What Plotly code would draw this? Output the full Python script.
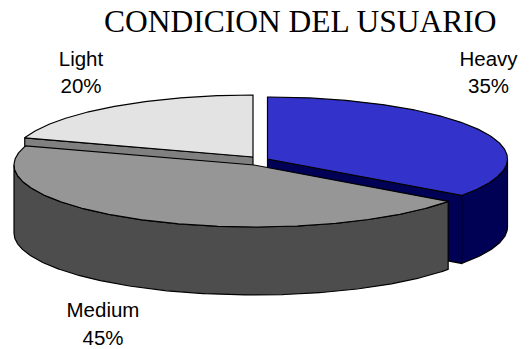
import numpy as np
import plotly.graph_objects as go

title = "CONDICION DEL USUARIO"
categories = ["Heavy", "Medium", "Light"]
values = [35, 45, 20]
top_colors = ["#3333CC", "#969696", "#E3E3E3"]
side_colors = ["#000055", "#4D4D4D", "#808080"]
centers = [(267.5, 159), (254, 165), (253, 157)]
label_x = [488.5, 103, 81]
label_name_y = [60.5, 311.5, 60.5]
label_pct_y = [88, 339.5, 88]
RX, RY, DEPTH = 240, 62, 68

def pt(c, deg, drop=0):
    a = np.radians(deg)
    return c[0] + RX * np.sin(a), c[1] - RY * np.cos(a) + drop

def arc(c, a0, a1, drop=0):
    d = np.linspace(a0, a1, max(int(abs(a1 - a0)) * 2, 2))
    return pt(c, d, drop)

fig = go.Figure()

def poly(x, y, color):
    fig.add_trace(go.Scatter(
        x=list(x) + [x[0]], y=list(y) + [y[0]], mode="lines", fill="toself",
        fillcolor=color, line=dict(color="black", width=1.2),
        hoverinfo="skip", showlegend=False))

# angular extents, clockwise from 12 o'clock
edges = np.cumsum([0] + values) * 3.6
spans = {n: (edges[i], edges[i + 1]) for i, n in enumerate(categories)}

def radial_wall(i, deg):
    c = centers[i]
    ex, ey = pt(c, deg)
    poly([c[0], ex, ex, c[0]], [c[1], ey, ey + DEPTH, c[1] + DEPTH], side_colors[i])

def outer_wall(i, a0, a1):
    c = centers[i]
    tx, ty = arc(c, a0, a1)
    bx, by = arc(c, a1, a0, DEPTH)
    poly(np.r_[tx, bx], np.r_[ty, by], side_colors[i])

def top(i, a0, a1):
    c = centers[i]
    x, y = arc(c, a0, a1)
    poly(np.r_[c[0], x], np.r_[c[1], y], top_colors[i])

# back to front: Light, Heavy, Medium
a0, a1 = spans["Light"]
radial_wall(2, a0)
top(2, a0, a1)

a0, a1 = spans["Heavy"]
radial_wall(0, a1)
outer_wall(0, 90, a1)
top(0, a0, a1)

a0, a1 = spans["Medium"]
outer_wall(1, a0, 270)
top(1, a0, a1)

for ys, texts in ((label_name_y, categories), (label_pct_y, [f"{v}%" for v in values])):
    fig.add_trace(go.Scatter(
        x=label_x, y=ys, mode="text", text=texts, textposition="middle center",
        textfont=dict(family="Liberation Sans", size=20.5, color="black"),
        hoverinfo="skip", showlegend=False, cliponaxis=False))

fig.update_layout(
    width=532, height=349, margin=dict(l=0, r=0, t=0, b=0),
    paper_bgcolor="white", plot_bgcolor="white", showlegend=False,
    xaxis=dict(range=[0, 532], visible=False, fixedrange=True),
    yaxis=dict(range=[349, 0], visible=False, fixedrange=True),
    annotations=[dict(text=title, x=300, y=21, xref="x", yref="y", showarrow=False,
                      font=dict(family="Liberation Serif", size=31.5, color="black"))],
)
fig.write_html("out.html", config={"displayModeBar": False},
               post_script="document.body.style.margin='0';document.documentElement.style.overflow='hidden';")
